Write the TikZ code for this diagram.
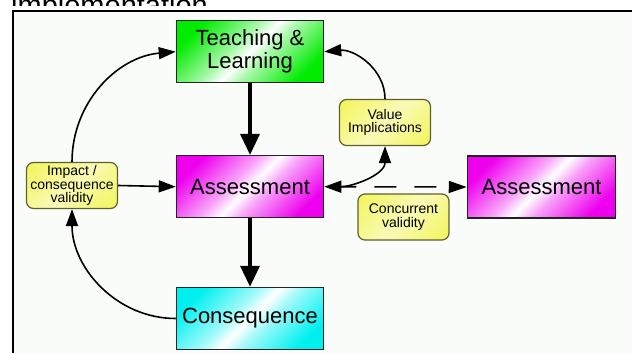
\documentclass[tikz,border=0pt]{standalone}
\usepackage{fontspec}
\setmainfont{Liberation Sans}
\usetikzlibrary{arrows.meta}
\definecolor{cG}{RGB}{0,236,0}
\definecolor{cM}{RGB}{238,0,238}
\definecolor{cC}{RGB}{0,240,240}
\definecolor{cY}{RGB}{236,240,10}
\definecolor{bgc}{RGB}{250,252,250}
\definecolor{boxc}{RGB}{35,35,35}
\definecolor{ybord}{RGB}{95,95,50}
\pgfdeclarehorizontalshading{gleamG}{100bp}{color(0bp)=(cG); color(35bp)=(cG); color(46bp)=(cG!35!white); color(50bp)=(white); color(54bp)=(cG!35!white); color(65bp)=(cG); color(100bp)=(cG)}
\pgfdeclarehorizontalshading{gleamM}{100bp}{color(0bp)=(cM); color(35bp)=(cM); color(46bp)=(cM!35!white); color(50bp)=(white); color(54bp)=(cM!35!white); color(65bp)=(cM); color(100bp)=(cM)}
\pgfdeclarehorizontalshading{gleamC}{100bp}{color(0bp)=(cC); color(35bp)=(cC); color(46bp)=(cC!35!white); color(50bp)=(white); color(54bp)=(cC!35!white); color(65bp)=(cC); color(100bp)=(cC)}
\pgfdeclarehorizontalshading{gleamY}{100bp}{color(0bp)=(cY); color(25bp)=(cY); color(50bp)=(cY!30!white); color(75bp)=(cY); color(100bp)=(cY)}
\begin{document}
\begin{tikzpicture}[x=1pt,y=-1pt,
  gleam/.style={path picture={\shade[shading=#1,shading angle=-45]
      ([shift={(-90pt,-90pt)}]path picture bounding box.center) rectangle
      ([shift={(90pt,90pt)}]path picture bounding box.center);}},
  bigbox/.style={draw=boxc, line width=1.5pt, minimum width=147pt, minimum height=62pt,
      inner sep=0pt, align=center, font=\fontsize{22}{23}\selectfont},
  smallbox/.style={draw=ybord, line width=1.2pt, rounded corners=7pt, minimum width=91pt,
      minimum height=46pt, inner sep=0pt, align=center, font=\fontsize{14}{13.5}\selectfont,
      gleam=gleamY},
  thinarr/.style={line width=1.6pt, -{Triangle[length=17pt,width=12pt]}},
  thickarr/.style={line width=3.5pt, -{Triangle[length=21pt,width=19pt]}}
]
\useasboundingbox (0,0) rectangle (632,353);
\fill[white] (0,0) rectangle (632,353);
\begin{scope}
  \clip (0,0) rectangle (632,6);
  \node[anchor=base west, inner sep=0pt, font=\fontsize{29}{30}\selectfont] (cap) at (11,15.5) {implementation.};
\end{scope}
\draw[line width=2pt, fill=bgc] (13.3,370) -- (13.3,11.3) -- (650,11.3) -- (650,370) -- cycle;

\node[bigbox, gleam=gleamG] (tl) at (250,51.7) {Teaching \&\\Learning};
\node[bigbox, gleam=gleamM] (asm) at (250,186.7) {Assessment};
\node[bigbox, gleam=gleamC] (con) at (250,318.5) {Consequence};
\node[bigbox, gleam=gleamM, minimum width=148pt] (asm2) at (541.5,187) {Assessment};
\node[smallbox] (imp) at (72,185.5) {Impact /\\consequence\\validity};
\node[smallbox] (vi) at (385,122.5) {Value\\Implications};
\node[smallbox] (cv) at (403.5,217) {Concurrent\\validity};

\draw[thickarr] (tl) -- (asm);
\draw[thickarr] (asm) -- (con);
\draw[thinarr] (imp.east) -- (asm.west);
\draw[thinarr] (imp.north) to[out=90,in=185] (tl.west);
\draw[thinarr] (con.west) to[out=180,in=-90] (imp.south);
\draw[thinarr] (vi.north) to[out=90,in=5] (tl.east);
\draw[line width=1.6pt, dash pattern=on 22pt off 18pt, dash phase=30pt, -{Triangle[length=18pt,width=12pt]}] (asm.east) -- (asm2.west);
\draw[line width=1.6pt, {Triangle[length=17pt,width=12pt]}-{Triangle[length=17pt,width=12pt]}] (asm.east) to[out=0,in=-90] (vi.south);
\end{tikzpicture}
\end{document}
